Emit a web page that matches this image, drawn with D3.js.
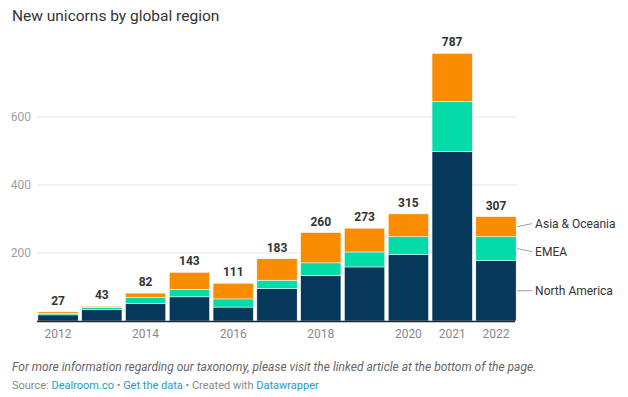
<!DOCTYPE html>
<html>
<head>
<meta charset="utf-8">
<script src="https://cdn.jsdelivr.net/npm/d3@7"></script>
<style>
  body { margin: 0; background: #fff; font-family: Roboto, sans-serif; }
  svg text { font-family: Roboto, sans-serif; }
</style>
</head>
<body>
<script>
// data
const years = ["2012", "2013", "2014", "2015", "2016", "2017", "2018", "2019", "2020", "2021", "2022"];
const northAmerica = [18, 33, 52, 71, 41, 95, 134, 159, 195, 498, 178];
const emea = [5, 7, 18, 22, 24, 25, 37, 44, 53, 148, 70];
const asiaOceania = [4, 3, 12, 50, 46, 63, 89, 70, 67, 141, 59];
const seriesNames = ["North America", "EMEA", "Asia & Oceania"];
const seriesColors = ["#05385b", "#03dba9", "#fa8c00"];
const yTicks = [200, 400, 600];
const xTickLabels = ["2012", "2014", "2016", "2018", "2020", "2021", "2022"];

const w = 628, h = 397;
const svg = d3.select("body").append("svg")
    .attr("width", w)
    .attr("height", h);

const rows = years.map(function (y, i) {
    return { year: y, "North America": northAmerica[i], "EMEA": emea[i], "Asia & Oceania": asiaOceania[i] };
});
const stacked = d3.stack().keys(seriesNames)(rows);

const xScale = d3.scaleBand()
    .domain(years)
    .range([37, 517])
    .paddingInner(0.08)
    .paddingOuter(0.02);

const yScale = d3.scaleLinear()
    .domain([0, 600])
    .range([321, 117]);

// title
svg.append("text")
    .attr("x", 12)
    .attr("y", 21)
    .attr("font-size", 15.5)
    .attr("fill", "#333")
    .text("New unicorns by global region");

// gridlines + y labels
svg.append("g")
    .selectAll("line")
    .data(yTicks)
    .enter()
    .append("line")
    .attr("x1", 37)
    .attr("x2", 517)
    .attr("y1", d => yScale(d))
    .attr("y2", d => yScale(d))
    .attr("stroke", "#e4e4e4");

svg.append("g")
    .selectAll("text")
    .data(yTicks)
    .enter()
    .append("text")
    .attr("x", 31)
    .attr("y", d => yScale(d))
    .attr("dy", "0.35em")
    .attr("text-anchor", "end")
    .attr("font-size", 12)
    .attr("fill", "#a0a0a0")
    .text(d => d);

// bars
svg.append("g")
    .selectAll("g")
    .data(stacked)
    .enter()
    .append("g")
    .attr("fill", (d, i) => seriesColors[i])
    .selectAll("rect")
    .data(d => d)
    .enter()
    .append("rect")
    .attr("x", d => xScale(d.data.year))
    .attr("width", xScale.bandwidth())
    .attr("y", d => yScale(d[1]))
    .attr("height", d => yScale(d[0]) - yScale(d[1]))
    .attr("stroke", "#fff")
    .attr("stroke-width", 0.5);

// totals on top
svg.append("g")
    .selectAll("text")
    .data(rows)
    .enter()
    .append("text")
    .attr("x", d => xScale(d.year) + xScale.bandwidth() / 2)
    .attr("y", d => yScale(d["North America"] + d["EMEA"] + d["Asia & Oceania"]) - 7)
    .attr("text-anchor", "middle")
    .attr("font-size", 12)
    .attr("font-weight", "bold")
    .attr("fill", "#333")
    .text(d => d["North America"] + d["EMEA"] + d["Asia & Oceania"]);

// baseline
svg.append("line")
    .attr("x1", 37)
    .attr("x2", 515)
    .attr("y1", yScale(0) + 0.5)
    .attr("y2", yScale(0) + 0.5)
    .attr("stroke", "#222")
    .attr("stroke-width", 1.5);

// x labels
svg.append("g")
    .selectAll("text")
    .data(xTickLabels)
    .enter()
    .append("text")
    .attr("x", d => xScale(d) + xScale.bandwidth() / 2)
    .attr("y", 338)
    .attr("text-anchor", "middle")
    .attr("font-size", 12)
    .attr("fill", "#888")
    .text(d => d);

// direct labels on last bar, nudged apart so they don't collide
const last = stacked.map(s => s[s.length - 1]);
const labels = last.map((d, i) => ({
    name: seriesNames[i],
    yc: (yScale(d[0]) + yScale(d[1])) / 2
}));
labels.forEach(l => l.y = l.yc);
labels.sort((a, b) => a.y - b.y);
const minGap = 28;
for (let k = 0; k < 20; k++) {
    for (let i = 1; i < labels.length; i++) {
        const gap = labels[i].y - labels[i - 1].y;
        if (gap < minGap) {
            const push = (minGap - gap) / 2;
            labels[i].y += push;
            labels[i - 1].y -= push;
        }
    }
}
const lx = xScale("2022") + xScale.bandwidth();

svg.append("g")
    .selectAll("line")
    .data(labels)
    .enter()
    .append("line")
    .attr("x1", lx + 1)
    .attr("x2", lx + 16)
    .attr("y1", d => d.yc)
    .attr("y2", d => d.y)
    .attr("stroke", "#888")
    .attr("stroke-width", 0.8);

svg.append("g")
    .selectAll("text")
    .data(labels)
    .enter()
    .append("text")
    .attr("x", lx + 19)
    .attr("y", d => d.y)
    .attr("dy", "0.35em")
    .attr("font-size", 12)
    .attr("fill", "#333")
    .text(d => d.name);

// footer
svg.append("text")
    .attr("x", 12)
    .attr("y", 371)
    .attr("font-size", 12)
    .attr("font-style", "italic")
    .attr("fill", "#666")
    .text("For more information regarding our taxonomy, please visit the linked article at the bottom of the page.");

const src = svg.append("text")
    .attr("x", 12)
    .attr("y", 389)
    .attr("font-size", 11)
    .attr("fill", "#888");
src.append("tspan").text("Source: ");
src.append("tspan").attr("fill", "#1d9bc9").text("Dealroom.co");
src.append("tspan").text(" • ");
src.append("tspan").attr("fill", "#1d9bc9").text("Get the data");
src.append("tspan").text(" • Created with ");
src.append("tspan").attr("fill", "#1d9bc9").text("Datawrapper");
</script>
</body>
</html>
